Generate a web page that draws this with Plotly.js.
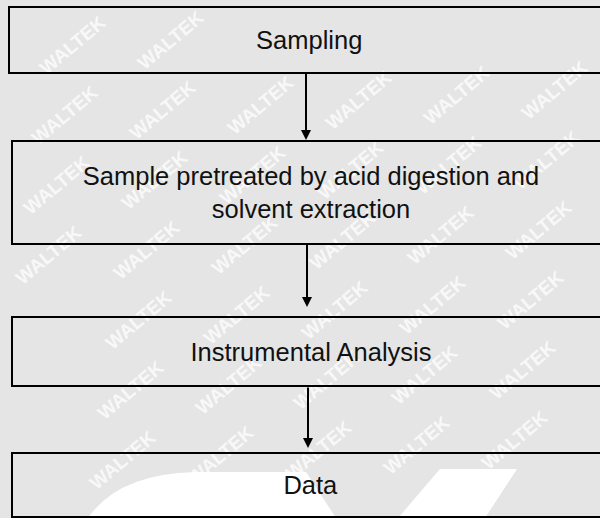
<!DOCTYPE html>
<html>
<head>
<meta charset="utf-8">
<script src="https://cdn.plot.ly/plotly-3.0.1.min.js"></script>
<style>
  html, body { margin: 0; padding: 0; background: #e5e5e5; }
  #chart { width: 600px; height: 518px; }
</style>
</head>
<body>
<div id="chart"></div>
<script>
// Flowchart steps (content)
const steps = [
  "Sampling",
  "Sample pretreated by acid digestion and<br>solvent extraction",
  "Instrumental Analysis",
  "Data"
];
const watermarkText = "WALTEK";

// Layout geometry (pixel-like axis units, y downwards)
const boxLeft   = [9.5, 12, 12, 12.5];
const boxTop    = [6.5, 141, 317, 453.5];
const boxBottom = [72.5, 243.5, 386, 517];
const boxRight  = 610;
const arrowX    = [306, 307, 308];
const arrowTip  = [140, 307, 448];

const W = 600, H = 518;
const annotations = [];

// watermark lattice (kept fully inside the page)
for (let j = -1; j <= 8; j++) {
  for (let i = -1; i <= 7; i++) {
    const x = 72 + 98 * i - 8 * j;
    const y = 45 - 5 * i + 70 * j;
    if (x < 42 || x > 558 || y < 36 || y > 482) continue;
    annotations.push({
      x: x, y: y, xref: 'x', yref: 'y', showarrow: false,
      text: watermarkText, textangle: -40,
      font: { family: 'Liberation Sans, Arial, sans-serif', size: 19, color: 'rgba(255,255,255,0.75)', weight: 'bold' }
    });
  }
}

// boxes with labels
steps.forEach((label, k) => {
  const w = boxRight - boxLeft[k];
  const h = boxBottom[k] - boxTop[k];
  annotations.push({
    x: (boxLeft[k] + boxRight) / 2, y: (boxTop[k] + boxBottom[k]) / 2,
    xref: 'x', yref: 'y', showarrow: false,
    text: label, align: 'center', valign: 'middle',
    width: w - 2, height: h - 2,
    bordercolor: '#000', borderwidth: 2, borderpad: 0,
    font: { family: 'Liberation Sans, Arial, sans-serif', size: 25.5, color: '#111' }
  });
});

// arrows
arrowX.forEach((ax, k) => {
  annotations.push({
    x: ax, y: arrowTip[k], ax: ax, ay: boxBottom[k],
    xref: 'x', yref: 'y', axref: 'x', ayref: 'y',
    text: '', showarrow: true, arrowhead: 2, arrowsize: 1,
    arrowwidth: 2, arrowcolor: '#000', standoff: 0, startstandoff: 0
  });
});

const shapes = [
  { type: 'path', xref: 'x', yref: 'y', layer: 'below',
    path: 'M 88 518 Q 118 474 195 472 L 306 472 L 336 518 Z',
    fillcolor: '#ffffff', line: { width: 0 } },
  { type: 'path', xref: 'x', yref: 'y', layer: 'below',
    path: 'M 440 469 L 517 469 L 485 518 L 398 518 Z',
    fillcolor: '#ffffff', line: { width: 0 } }
];

const layout = {
  width: W, height: H,
  margin: { l: 0, r: 0, t: 0, b: 0, pad: 0 },
  paper_bgcolor: '#e5e5e5', plot_bgcolor: '#e5e5e5',
  xaxis: { range: [0, W], visible: false, fixedrange: true },
  yaxis: { range: [H, 0], visible: false, fixedrange: true },
  showlegend: false,
  annotations: annotations,
  shapes: shapes
};

Plotly.newPlot('chart', [{ x: [], y: [], type: 'scatter', mode: 'markers', hoverinfo: 'skip' }], layout, { displayModeBar: false, staticPlot: true });
</script>
</body>
</html>
